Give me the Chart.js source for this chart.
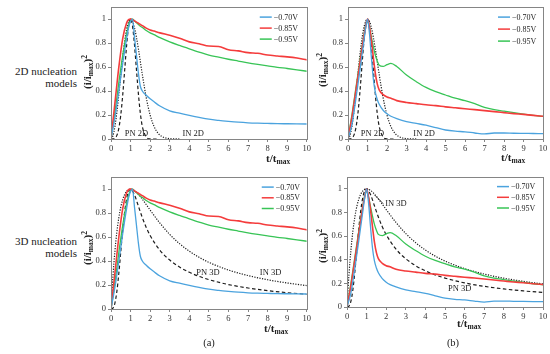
<!DOCTYPE html>
<html>
<head>
<meta charset="utf-8">
<script src="https://cdn.jsdelivr.net/npm/chart.js@4.4.1/dist/chart.umd.min.js"></script>
<style>
  body { margin: 0; width: 550px; height: 354px; position: relative; background: #fff; overflow: hidden;
         font-family: "Liberation Serif", "DejaVu Serif", serif; color: #222; }
  canvas { position: absolute; }
  .txt { position: absolute; white-space: nowrap; line-height: 1; }
  .side { font-size: 11px; text-align: right; width: 80px; }
  .ytitle { font-size: 11px; font-weight: bold; transform: translate(-50%, -50%) rotate(-90deg); }
  .xtitle { font-size: 11px; font-weight: bold; }
  .sub { font-size: 7.5px; vertical-align: -2px; }
  .sup { font-size: 7.5px; vertical-align: 4px; }
  .cap { font-size: 10.5px; transform: translateX(-50%); }
</style>
</head>
<body>
<canvas id="c1" width="223" height="156" style="left:90px;top:0px"></canvas>
<canvas id="c2" width="223" height="156" style="left:327px;top:0px"></canvas>
<canvas id="c3" width="223" height="156" style="left:90px;top:170px"></canvas>
<canvas id="c4" width="224" height="154" style="left:326px;top:170px"></canvas>

<div class="txt side" style="left:-3px;top:66px">2D nucleation</div>
<div class="txt side" style="left:-3px;top:78px">models</div>
<div class="txt side" style="left:-3px;top:236px">3D nucleation</div>
<div class="txt side" style="left:-3px;top:248px">models</div>

<div class="txt ytitle" style="left:88px;top:72px">(i/i<span class="sub">max</span>)<span class="sup">2</span></div>
<div class="txt ytitle" style="left:323px;top:70px">(i/i<span class="sub">max</span>)<span class="sup">2</span></div>
<div class="txt ytitle" style="left:88px;top:248px">(i/i<span class="sub">max</span>)<span class="sup">2</span></div>
<div class="txt ytitle" style="left:323px;top:246px">(i/i<span class="sub">max</span>)<span class="sup">2</span></div>

<div class="txt xtitle" style="left:266px;top:153px">t/t<span class="sub">max</span></div>
<div class="txt xtitle" style="left:501px;top:152px">t/t<span class="sub">max</span></div>
<div class="txt xtitle" style="left:264px;top:323px">t/t<span class="sub">max</span></div>
<div class="txt xtitle" style="left:457px;top:318px">t/t<span class="sub">max</span></div>

<div class="txt cap" style="left:209px;top:338px">(a)</div>
<div class="txt cap" style="left:453px;top:338px">(b)</div>

<script>
// axis ticks
const xTicks = [0, 1, 2, 3, 4, 5, 6, 7, 8, 9, 10];
const yTicks = [0, 0.2, 0.4, 0.6, 0.8, 1];
const seriesNames = ["\u22120.70V", "\u22120.85V", "\u22120.95V"];

const tExp = [0, 0.2, 0.4, 0.6, 0.8, 0.9, 1, 1.1, 1.2, 1.3, 1.4, 1.5, 1.6, 1.8, 2, 2.2, 2.5, 3, 3.5, 4, 4.5, 5, 5.5, 6, 6.5, 7, 7.5, 8, 8.5, 9, 9.5, 10];
// (a)
const blueA  = [0, 0.18, 0.4, 0.63, 0.84, 0.93, 0.98, 1, 0.85, 0.7, 0.55, 0.44, 0.4, 0.365, 0.335, 0.31, 0.275, 0.235, 0.215, 0.197, 0.18, 0.165, 0.155, 0.147, 0.14, 0.135, 0.132, 0.13, 0.128, 0.127, 0.126, 0.125];
const redA   = [0, 0.3, 0.6, 0.84, 0.97, 0.995, 1, 0.995, 0.985, 0.975, 0.965, 0.955, 0.945, 0.925, 0.91, 0.9, 0.885, 0.865, 0.84, 0.81, 0.795, 0.775, 0.772, 0.745, 0.735, 0.72, 0.715, 0.7, 0.692, 0.685, 0.675, 0.66];
const greenA = [0, 0.22, 0.47, 0.7, 0.88, 0.95, 0.99, 1, 0.985, 0.97, 0.955, 0.94, 0.93, 0.905, 0.885, 0.87, 0.845, 0.81, 0.78, 0.752, 0.725, 0.7, 0.682, 0.665, 0.65, 0.635, 0.622, 0.61, 0.598, 0.588, 0.577, 0.565];
// (b)
const blueB  = [0, 0.12, 0.33, 0.56, 0.8, 0.92, 1, 0.88, 0.68, 0.5, 0.39, 0.33, 0.29, 0.24, 0.21, 0.19, 0.17, 0.145, 0.13, 0.115, 0.095, 0.075, 0.065, 0.06, 0.05, 0.042, 0.05, 0.05, 0.048, 0.047, 0.046, 0.045];
const redB   = [0, 0.18, 0.4, 0.62, 0.84, 0.93, 1, 0.93, 0.82, 0.68, 0.55, 0.46, 0.41, 0.37, 0.35, 0.34, 0.32, 0.305, 0.295, 0.285, 0.278, 0.268, 0.26, 0.252, 0.245, 0.237, 0.228, 0.22, 0.212, 0.205, 0.197, 0.19];
const greenB = [0, 0.2, 0.42, 0.64, 0.85, 0.94, 0.98, 0.93, 0.85, 0.77, 0.7, 0.65, 0.615, 0.605, 0.62, 0.63, 0.605, 0.533, 0.478, 0.43, 0.395, 0.367, 0.34, 0.32, 0.295, 0.264, 0.245, 0.232, 0.22, 0.208, 0.197, 0.188];

// model curves (black)
const t2D  = [0, 0.1, 0.2, 0.3, 0.4, 0.5, 0.6, 0.7, 0.8, 0.9, 1, 1.1, 1.2, 1.3, 1.4, 1.5, 1.6, 1.8, 2, 2.2, 2.4, 2.6, 2.8, 3, 3.5];
const in2D = [0, 0.027, 0.104, 0.224, 0.371, 0.529, 0.683, 0.816, 0.917, 0.979, 1, 0.981, 0.927, 0.848, 0.751, 0.645, 0.538, 0.345, 0.199, 0.104, 0.049, 0.021, 0.008, 0.003, 0];
const pn2D = [0, 0.0004, 0.006, 0.03, 0.089, 0.201, 0.369, 0.577, 0.785, 0.942, 1, 0.942, 0.786, 0.579, 0.376, 0.213, 0.106, 0.017, 0.001, 0, 0, null, null, null, null];
const t3D  = [0, 0.1, 0.2, 0.3, 0.4, 0.5, 0.6, 0.7, 0.8, 0.9, 1, 1.2, 1.4, 1.6, 1.8, 2, 2.5, 3, 3.5, 4, 4.5, 5, 6, 7, 8, 9, 10];
const in3D = [0, 0.272, 0.482, 0.642, 0.762, 0.85, 0.913, 0.955, 0.982, 0.996, 1, 0.987, 0.957, 0.916, 0.871, 0.825, 0.716, 0.622, 0.545, 0.482, 0.431, 0.389, 0.325, 0.279, 0.244, 0.217, 0.195];
const pn3D = [0, 0.007, 0.049, 0.147, 0.298, 0.48, 0.661, 0.814, 0.922, 0.982, 1, 0.952, 0.857, 0.762, 0.68, 0.613, 0.49, 0.408, 0.35, 0.306, 0.272, 0.245, 0.204, 0.175, 0.153, 0.136, 0.123];

const colors = ["#4ba3de", "#f43c3c", "#38c456"];
const widths = [1.3, 1.6, 1.3];
const FONT = '"Liberation Serif", serif';

function pts(ts, ys) {
  return ts.map((t, i) => ({ x: t, y: ys[i] })).filter(p => p.y !== null);
}

const framePlugin = {
  id: "frame",
  afterDraw(chart) {
    const a = chart.chartArea, ctx = chart.ctx;
    ctx.save();
    ctx.strokeStyle = "#858585";
    ctx.lineWidth = 1;
    ctx.strokeRect(Math.round(a.left) + 0.5, Math.round(a.top) + 0.5, Math.round(a.right - a.left), Math.round(a.bottom - a.top));
    ctx.restore();
  }
};

const legendPlugin = {
  id: "boxLegend",
  afterDraw(chart, args, o) {
    const a = chart.chartArea, ctx = chart.ctx;
    ctx.save();
    ctx.font = "8px " + FONT;
    ctx.textBaseline = "middle";
    chart.data.datasets.filter(d => d.inLegend).forEach((d, i) => {
      const y = a.top + o.dy + i * o.gap;
      const x = a.right + o.dx;
      ctx.strokeStyle = d.borderColor;
      ctx.lineWidth = 1.5;
      ctx.beginPath();
      ctx.moveTo(x, y);
      ctx.lineTo(x + 12, y);
      ctx.stroke();
      ctx.fillStyle = "#222";
      ctx.fillText(d.label, x + 14, y + 0.5);
    });
    ctx.restore();
  }
};

const notesPlugin = {
  id: "notes",
  afterDatasetsDraw(chart, args, o) {
    const xs = chart.scales.x, ys = chart.scales.y, ctx = chart.ctx;
    ctx.save();
    ctx.font = "8.5px " + FONT;
    ctx.fillStyle = "#222";
    ctx.textAlign = "center";
    ctx.textBaseline = "middle";
    (o.items || []).forEach(n => {
      ctx.fillText(n.text, xs.getPixelForValue(n.x), ys.getPixelForValue(n.y));
      if (n.from) {
        ctx.strokeStyle = "#222";
        ctx.lineWidth = 0.8;
        ctx.beginPath();
        ctx.moveTo(xs.getPixelForValue(n.from[0]), ys.getPixelForValue(n.from[1]));
        ctx.lineTo(xs.getPixelForValue(n.to[0]), ys.getPixelForValue(n.to[1]));
        ctx.stroke();
      }
    });
    ctx.restore();
  }
};

function makePanel(id, exp, dims, legend, notes) {
  const datasets = exp.map((ys, i) => ({
    label: seriesNames[i],
    data: pts(tExp, ys),
    borderColor: colors[i],
    borderWidth: widths[i],
    inLegend: true
  }));
  const models = dims === 2
    ? [{ label: "PN", t: t2D, y: pn2D, dash: [3.5, 2.5] }, { label: "IN", t: t2D, y: in2D, dash: [1.2, 1.4] }]
    : [{ label: "PN", t: t3D, y: pn3D, dash: [3.5, 2.5] }, { label: "IN", t: t3D, y: in3D, dash: [1.2, 1.4] }];
  models.forEach(m => datasets.push({
    label: m.label,
    data: pts(m.t, m.y),
    borderColor: "#1c1c1c",
    borderWidth: 1.2,
    borderDash: m.dash
  }));

  new Chart(document.getElementById(id), {
    type: "line",
    data: { datasets },
    options: {
      responsive: false,
      animation: false,
      layout: { padding: { top: legend.padTop, right: legend.padRight, left: 0, bottom: 0 } },
      elements: { point: { radius: 0 }, line: { cubicInterpolationMode: "monotone" } },
      plugins: {
        legend: { display: false },
        tooltip: { enabled: false },
        boxLegend: legend,
        notes: { items: notes }
      },
      scales: {
        x: {
          type: "linear", min: 0, max: 10,
          afterBuildTicks: s => { s.ticks = xTicks.map(v => ({ value: v })); },
          afterFit: s => { s.height = 17; },
          border: { display: false },
          grid: { drawOnChartArea: false, drawTicks: true, tickLength: 3, color: "#858585" },
          ticks: { padding: 2, color: "#333", font: { family: FONT, size: 8.5 }, maxRotation: 0 }
        },
        y: {
          type: "linear", min: 0, max: 1.1,
          afterBuildTicks: s => { s.ticks = yTicks.map(v => ({ value: v })); },
          afterFit: s => { s.width = 21; },
          border: { display: false },
          grid: { drawOnChartArea: false, drawTicks: true, tickLength: 3, color: "#858585" },
          ticks: { padding: 2, color: "#333", font: { family: FONT, size: 8.5 }, callback: v => String(+v.toFixed(1)) }
        }
      }
    },
    plugins: [framePlugin, legendPlugin, notesPlugin]
  });
}

makePanel("c1", [blueA, redA, greenA], 2,
  { padTop: 5, padRight: 6, dx: -47, dy: 10, gap: 11 },
  [{ text: "PN 2D", x: 1.3, y: 0.04 }, { text: "IN 2D", x: 4.2, y: 0.04 }]);
makePanel("c2", [blueB, redB, greenB], 2,
  { padTop: 7, padRight: 7, dx: -45, dy: 10, gap: 12 },
  [{ text: "PN 2D", x: 1.25, y: 0.04 }, { text: "IN 2D", x: 3.9, y: 0.04 }]);
makePanel("c3", [blueA, redA, greenA], 3,
  { padTop: 5, padRight: 6, dx: -45, dy: 10, gap: 10.7 },
  [{ text: "PN 3D", x: 4.95, y: 0.3 }, { text: "IN 3D", x: 8.15, y: 0.3 }]);
makePanel("c4", [blueB, redB, greenB], 3,
  { padTop: 5, padRight: 7, dx: -46, dy: 9.5, gap: 10.7 },
  [{ text: "IN 3D", x: 2.5, y: 0.87, from: [1.4, 0.95], to: [1.85, 0.875] }, { text: "PN 3D", x: 5.75, y: 0.155 }]);
</script>
</body>
</html>
